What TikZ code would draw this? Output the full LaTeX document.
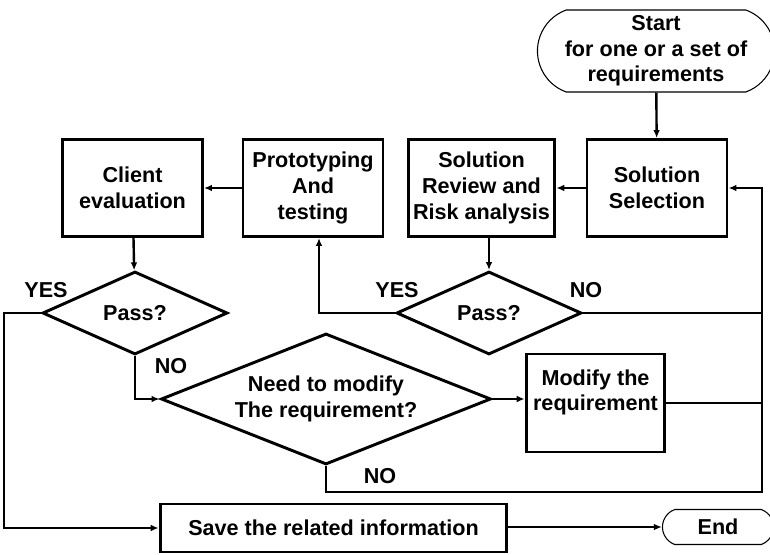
\documentclass[tikz,border=0pt]{standalone}
\usepackage{fontspec}
\setmainfont{Liberation Sans}
\usetikzlibrary{shapes.geometric,shapes.misc,arrows.meta}

\tikzstyle{txt} = [font=\bfseries\fontsize{16.2pt}{19.2pt}\selectfont]
\tikzstyle{block} = [rectangle, draw, line width=2.2pt, txt, align=center,
    minimum width=105pt, minimum height=72.75pt, inner sep=2pt]
\tikzstyle{decision} = [diamond, draw, line width=2.2pt, txt, align=center,
    aspect=2.2, minimum width=138.75pt, minimum height=62.25pt, inner sep=1pt]
\tikzstyle{terminal} = [rounded rectangle, rounded rectangle arc length=140,
    draw, line width=0.8pt, txt, align=center]
\tikzstyle{line} = [draw, line width=1.8pt]
\tikzstyle{arrow} = [line, -{Latex[length=6pt,width=5pt]}]

\begin{document}
\begin{tikzpicture}[x=0.75pt,y=-0.75pt]
	\useasboundingbox (0,0) rectangle (770,555);
	% top row
	\node [terminal, minimum width=184.5pt, minimum height=61.5pt] (start) at (656,51)
		{Start\\for one or a set of\\requirements};
	\node [block] (sel) at (657,188) {Solution\\Selection};
	\node [block, minimum width=110pt] (rev) at (481.5,188) {Solution\\Review and\\Risk analysis};
	\node [block] (proto) at (313,188) {Prototyping\\And\\testing};
	\node [block] (client) at (132.5,188) {Client\\evaluation};
	%
	\node [decision] (passa) at (135,313) {Pass?};
	\node [decision] (passb) at (489,313) {Pass?};
	\node [decision, aspect=2.5, minimum width=247.5pt, minimum height=98.25pt] (need) at (326,399)
		{Need to modify\\The requirement?};
	\node [block, minimum width=104pt, minimum height=73.5pt] (modify) at (595.5,403)
		{Modify the\\requirement\\~};
	%
	\node [block, minimum width=260pt, minimum height=36pt] (save) at (333.5,528)
		{Save the related information};
	\node [terminal, minimum width=90pt, minimum height=26.25pt] (stop) at (718,527) {End};
	\coordinate (rail) at (762,492);
	%
	\node [txt] (yesa) at (46,290) {YES};
	\node [txt] (noa) at (171,366) {NO};
	\node [txt] (yesb) at (397,290) {YES};
	\node [txt] (nob) at (586,290) {NO};
	\node [txt] (noc) at (380,476) {NO};
	%
	\draw [arrow] (start) -- (sel);
	\draw [arrow] (sel) -- (rev);
	\draw [arrow] (passb.north |- rev.south) -- (passb.north);
	\draw [arrow] (passb.west) -| ([xshift=4.5pt]proto.south);
	\draw [arrow] (proto) -- (client);
	\draw [arrow] (client) -- (passa);
	\draw [arrow] (passa.west) -- ++(-37,0) |- (save.west);
	\draw [arrow] (passa.south) |- (need.west);
	\draw [arrow] (need.east) -- (need.east -| modify.west);
	\draw [arrow] (need.south) |- (rail) |- (sel.east);
	\draw [line] (passb.east) -- (passb.east -| rail);
	\draw [line] (modify.east) -- (modify.east -| rail);
	\draw [arrow] (save.east |- stop.west) -- (stop.west);
\end{tikzpicture}
\end{document}
